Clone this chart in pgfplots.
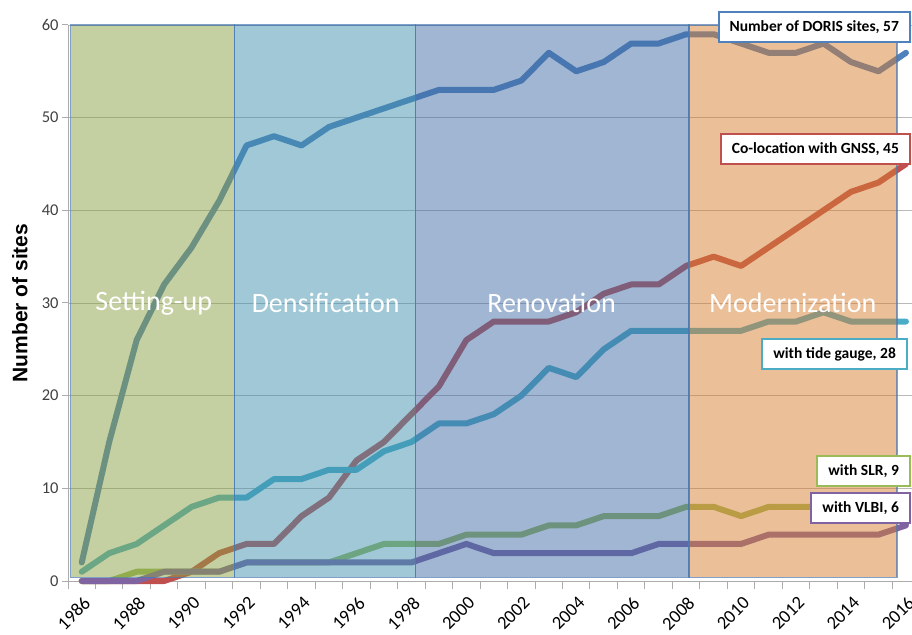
\documentclass[border=0pt]{standalone}
\usepackage{pgfplots}
\pgfplotsset{compat=1.18}
\usepackage{fontspec}
\setmainfont{Carlito}
\newfontfamily\lsans{Liberation Sans}
\definecolor{doris}{HTML}{4F81BD}
\definecolor{gnss}{HTML}{C0504D}
\definecolor{tide}{HTML}{4BACC6}
\definecolor{slr}{HTML}{9BBB59}
\definecolor{vlbi}{HTML}{8064A2}
\definecolor{rgreen}{HTML}{8BA145}
\definecolor{rcyan}{HTML}{4191AD}
\definecolor{rblue}{HTML}{416DA5}
\definecolor{rorange}{HTML}{D77F31}
\definecolor{rborder}{HTML}{4A78B0}
\begin{document}
\begin{tikzpicture}
\path[use as bounding box] (0,0) rectangle (912pt,634pt);
\begin{axis}[
  scale only axis, width=844pt, height=556pt,
  at={(68pt,53pt)}, anchor=south west,
  xmin=1985.5, xmax=2016.22, ymin=0, ymax=60,
  clip=false,
  axis x line*=bottom, axis y line*=left,
  axis line style={draw=gray!65, line width=1pt},
  tick align=outside,
  ytick={0,10,...,60},
  ymajorgrids, grid style={draw=gray!55, line width=0.8pt},
  xtick={1986,1988,...,2016},
  minor xtick={1985.5,1986.5,...,2015.5},
  major x tick style={draw=none},
  minor x tick style={draw=gray!65, line width=1pt},
  major y tick style={draw=gray!65, line width=1pt},
  major tick length=6pt, minor tick length=8pt,
  xticklabel={\fontsize{18.5}{18.5}\selectfont\pgfmathprintnumber[1000 sep={},fixed,precision=0,assume math mode=true]{\tick}},
  yticklabel={\fontsize{16.5}{16.5}\selectfont\pgfmathprintnumber[fixed,precision=0,assume math mode=true]{\tick}},
  xticklabel style={rotate=45, anchor=east, text=black, yshift=-13pt, xshift=-2pt},
  yticklabel style={text=black!75},
  ylabel={\lsans\bfseries Number of sites},
  ylabel style={at={(axis description cs:-0.057,0.5)}, anchor=center, font=\fontsize{21}{21}\selectfont},
  every axis plot/.append style={line join=round, line cap=round},
]
% series
\addplot[draw=doris, line width=6pt] coordinates {
(1986,2) (1987,15) (1988,26) (1989,32) (1990,36) (1991,41) (1992,47) (1993,48) (1994,47) (1995,49)
(1996,50) (1997,51) (1998,52) (1999,53) (2000,53) (2001,53) (2002,54) (2003,57) (2004,55) (2005,56)
(2006,58) (2007,58) (2008,59) (2009,59) (2010,58) (2011,57) (2012,57) (2013,58) (2014,56) (2015,55) (2016,57)};
\addplot[draw=gnss, line width=6pt] coordinates {
(1986,0) (1987,0) (1988,0) (1989,0) (1990,1) (1991,3) (1992,4) (1993,4) (1994,7) (1995,9)
(1996,13) (1997,15) (1998,18) (1999,21) (2000,26) (2001,28) (2002,28) (2003,28) (2004,29) (2005,31)
(2006,32) (2007,32) (2008,34) (2009,35) (2010,34) (2011,36) (2012,38) (2013,40) (2014,42) (2015,43) (2016,45)};
\addplot[draw=tide, line width=6pt] coordinates {
(1986,1) (1987,3) (1988,4) (1989,6) (1990,8) (1991,9) (1992,9) (1993,11) (1994,11) (1995,12)
(1996,12) (1997,14) (1998,15) (1999,17) (2000,17) (2001,18) (2002,20) (2003,23) (2004,22) (2005,25)
(2006,27) (2007,27) (2008,27) (2009,27) (2010,27) (2011,28) (2012,28) (2013,29) (2014,28) (2015,28) (2016,28)};
\addplot[draw=slr, line width=6pt] coordinates {
(1986,0) (1987,0) (1988,1) (1989,1) (1990,1) (1991,1) (1992,2) (1993,2) (1994,2) (1995,2)
(1996,3) (1997,4) (1998,4) (1999,4) (2000,5) (2001,5) (2002,5) (2003,6) (2004,6) (2005,7)
(2006,7) (2007,7) (2008,8) (2009,8) (2010,7) (2011,8) (2012,8) (2013,8) (2014,8) (2015,8) (2016,9)};
\addplot[draw=vlbi, line width=6pt] coordinates {
(1986,0) (1987,0) (1988,0) (1989,1) (1990,1) (1991,1) (1992,2) (1993,2) (1994,2) (1995,2)
(1996,2) (1997,2) (1998,2) (1999,3) (2000,4) (2001,3) (2002,3) (2003,3) (2004,3) (2005,3)
(2006,3) (2007,4) (2008,4) (2009,4) (2010,4) (2011,5) (2012,5) (2013,5) (2014,5) (2015,5) (2016,6)};
% phase overlays
\addplot[fill=rgreen, fill opacity=0.5, draw=rborder, draw opacity=0.7, line width=1.2pt, line cap=butt, line join=miter]
  coordinates {(1985.6,0.4) (1991.55,0.4) (1991.55,60) (1985.6,60)} -- cycle;
\addplot[fill=rcyan, fill opacity=0.5, draw=rborder, draw opacity=0.7, line width=1.2pt, line cap=butt, line join=miter]
  coordinates {(1991.55,0.4) (1998.15,0.4) (1998.15,60) (1991.55,60)} -- cycle;
\addplot[fill=rblue, fill opacity=0.5, draw=rborder, draw opacity=0.7, line width=1.2pt, line cap=butt, line join=miter]
  coordinates {(1998.15,0.4) (2008.1,0.4) (2008.1,60) (1998.15,60)} -- cycle;
\addplot[fill=rorange, fill opacity=0.5, draw=rborder, draw opacity=0.7, line width=1.2pt, line cap=butt, line join=miter]
  coordinates {(2008.1,0.4) (2015.67,0.4) (2015.67,60) (2008.1,60)} -- cycle;
% phase names
\begin{scope}[every node/.style={text=white, font=\fontsize{28}{28}\selectfont}]
\node at (axis cs:1988.62,30) {Setting-up};
\node at (axis cs:1994.88,30) {Densification};
\node at (axis cs:2003.1,30) {Renovation};
\node at (axis cs:2011.88,30) {Modernization};
\end{scope}
% end labels
\begin{scope}[every node/.style={fill=white, line width=2pt, anchor=east, inner xsep=11pt, minimum height=30pt, text=black, font=\fontsize{15.5}{15.5}\selectfont\bfseries}]
\node[draw=doris] at (axis cs:2016.18,59.8) {Number of DORIS sites, 57};
\node[draw=gnss] at (axis cs:2016.18,46.6) {Co-location with GNSS, 45};
\node[draw=tide] at (axis cs:2016.07,24.5) {with tide gauge, 28};
\node[draw=slr] at (axis cs:2016.18,11.9) {with SLR, 9};
\node[draw=vlbi] at (axis cs:2016.18,7.9) {with VLBI, 6};
\end{scope}
\end{axis}
\end{tikzpicture}
\end{document}
